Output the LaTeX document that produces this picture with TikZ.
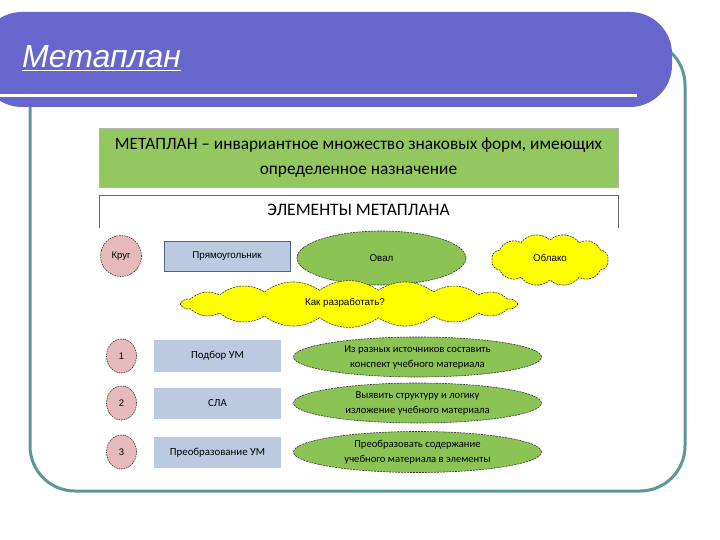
\documentclass[tikz,border=0pt]{standalone}
\usepackage{fontspec}
\setmainfont{Carlito}
\newfontfamily\arialf{Liberation Sans}
\usetikzlibrary{shapes.geometric}
\definecolor{bannerc}{RGB}{102,102,204}
\definecolor{framec}{RGB}{95,150,150}
\definecolor{hdrgreen}{RGB}{146,200,95}
\definecolor{pinkc}{RGB}{230,186,186}
\definecolor{bluec}{RGB}{187,202,224}
\definecolor{rectborder}{RGB}{80,100,140}
\definecolor{ovalgreen}{RGB}{140,195,85}
\definecolor{yel}{RGB}{255,255,0}
\tikzset{
  circ/.style={ellipse, draw=black!80, dashed, dash pattern=on 1.5pt off 1pt, line width=0.6pt, fill=pinkc, inner sep=0pt, font=\arialf\fontsize{9.5}{10}\selectfont},
  rectb/.style={rectangle, fill=bluec, inner sep=0pt, font=\fontsize{10.8}{12}\selectfont},
  ovalb/.style={ellipse, draw=black!80, dashed, dash pattern=on 2pt off 1pt, line width=0.6pt, fill=ovalgreen, inner sep=0pt, align=center, font=\fontsize{10.6}{15}\selectfont},
  cloudline/.style={draw=black!80, dashed, dash pattern=on 2pt off 1pt, line width=0.6pt, fill=yel},
  cloudtext/.style={inner sep=0pt, font=\arialf\fontsize{9.8}{11}\selectfont}
}
% #1 cx, #2 cy, #3 rx, #4 ry, #5 puffs, #6 bend
\newcommand\mycloud[6]{%
  \path[cloudline] ({#1+#3},{#2})
    \foreach \k in {1,...,#5} { to[bend left=#6] ({#1+#3*cos(\k*360/#5)},{#2+#4*sin(\k*360/#5)}) } -- cycle;}
\begin{document}
\begin{tikzpicture}[x=1pt,y=-1pt]
\useasboundingbox (0,0) rectangle (720,540);
\fill[white] (0,0) rectangle (720,540);
% frame
\draw[framec, line width=3pt, rounded corners=45pt] (30,40) rectangle (685,491);
% banner
\fill[bannerc, rounded corners=42pt] (-20,12) -- (672,12) -- (672,107) -- (-20,107) -- cycle;
\fill[white] (0,94.5) rectangle (637,97);
\node[anchor=base west, inner sep=0pt, text=white, font=\arialf\itshape\fontsize{32}{34}\selectfont] (title) at (22,68) {\underline{Метаплан}};
% header
\node[fill=hdrgreen, draw=black!30, line width=0.4pt, minimum width=519, minimum height=59, inner sep=0pt, align=center, font=\fontsize{17.3}{25}\selectfont] (hdr) at (358.5,157.5) {МЕТАПЛАН – инвариантное множество знаковых форм, имеющих\\определенное назначение};
\draw[black!60, line width=0.6pt] (99,228) -- (99,195) -- (618,195) -- (618,228);
\node[font=\fontsize{17.5}{19}\selectfont, inner sep=0pt] (elem) at (358.5,210) {ЭЛЕМЕНТЫ МЕТАПЛАНА};
% legend shapes
\node[circ, minimum width=41, minimum height=41] (krug) at (121,256) {Круг};
\node[rectangle, fill=bluec, draw=rectborder, line width=0.8pt, minimum width=126, minimum height=30, inner sep=0pt, text height=7, text depth=2, font=\arialf\fontsize{9.8}{11}\selectfont] (pryam) at (227,256) {Прямоугольник};
\node[ovalb, minimum width=169, minimum height=54, font=\arialf\fontsize{9.8}{11}\selectfont] (oval) at (381.5,258) {Овал};
\mycloud{550}{260}{58}{20}{12}{48}
\node[cloudtext] (oblako) at (550,258) {Облако};
\mycloud{349}{304}{169}{14}{18}{34}
\node[cloudtext] (kak) at (345,303) {Как разработать?};
% rows
\node[circ, minimum width=30, minimum height=34] (c1) at (121.5,356) {1};
\node[circ, minimum width=30, minimum height=34] (c2) at (121.5,403) {2};
\node[circ, minimum width=30, minimum height=34] (c3) at (121.5,452) {3};
\node[rectb, minimum width=127, minimum height=32] (r1) at (217.5,356) {Подбор УМ};
\node[rectb, minimum width=127, minimum height=31] (r2) at (217.5,403.5) {СЛА};
\node[rectb, minimum width=127, minimum height=31] (r3) at (217.5,452.5) {Преобразование УМ};
\node[ovalb, minimum width=248, minimum height=40] (o1) at (417.5,357) {Из разных источников составить\\конспект учебного материала};
\node[ovalb, minimum width=248, minimum height=40] (o2) at (417.5,403) {Выявить структуру и логику\\изложение учебного материала};
\node[ovalb, minimum width=248, minimum height=41] (o3) at (417.5,452) {Преобразовать содержание\\учебного материала в элементы};
\end{tikzpicture}
\end{document}
